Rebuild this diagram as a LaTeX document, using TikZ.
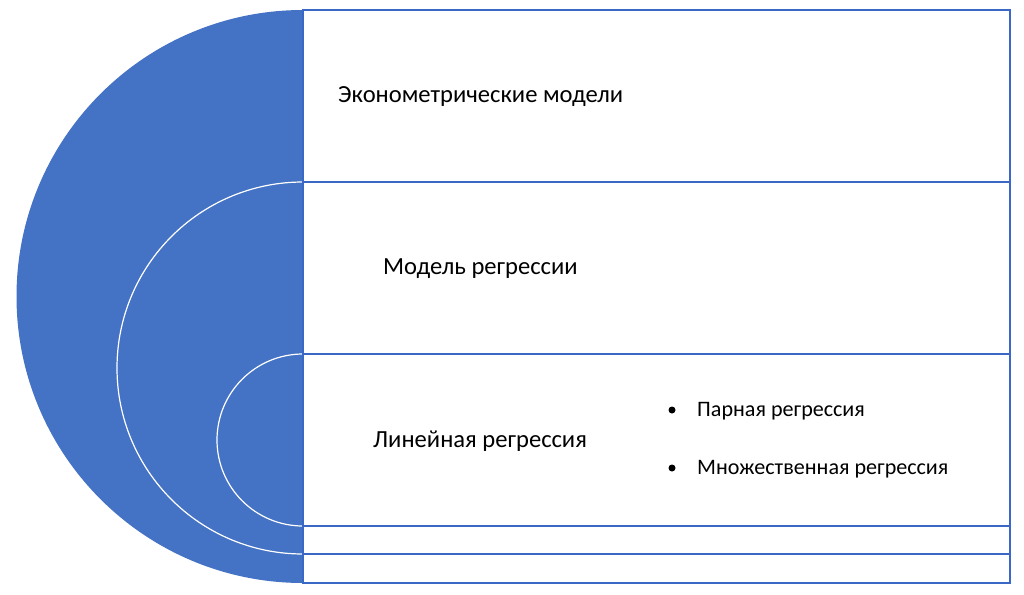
\documentclass[tikz,border=0pt]{standalone}
\usepackage{fontspec}
\setmainfont{Carlito}
\definecolor{dblue}{HTML}{4472C4}
\definecolor{lblue}{HTML}{3A68C6}
\begin{document}
\begin{tikzpicture}[x=1pt,y=-1pt,
  rowbox/.style={draw=lblue,line width=1.3pt},
  big/.style={font=\fontsize{24.6}{29}\selectfont,anchor=west,inner sep=0pt},
  small/.style={font=\fontsize{22.1}{26}\selectfont,anchor=west,inner sep=0pt}]
\useasboundingbox (0,0) rectangle (1024,594);
% rows
\draw[rowbox] (303,10) rectangle (1010,182);
\draw[rowbox] (303,182) rectangle (1010,354);
\draw[rowbox] (303,354) rectangle (1010,526);
\draw[rowbox] (303,526) rectangle (1010,554);
\draw[rowbox] (303,554) rectangle (1010,583);
% half discs
\fill[dblue] (303,10) arc[start angle=-90,end angle=-270,radius=286.5] -- cycle;
\draw[white,line width=1.2pt,fill=dblue] (303,182) arc[start angle=-90,end angle=-270,radius=186] ;
\draw[white,line width=1.2pt] (303,354) arc[start angle=-90,end angle=-270,radius=86] ;
\draw[lblue,line width=1.3pt] (303,10) -- (303,583);
% texts
\node[big] (t1) at (338,97) {Эконометрические модели};
\node[big] (t2) at (383,269) {Модель регрессии};
\node[big] (t3) at (373,441) {Линейная регрессия};
\node[small] (b1) at (697,411) {Парная регрессия};
\node[small] (b2) at (697,469) {Множественная регрессия};
\fill (672,410) circle[radius=3.5];
\fill (672,468) circle[radius=3.5];
\end{tikzpicture}
\end{document}
